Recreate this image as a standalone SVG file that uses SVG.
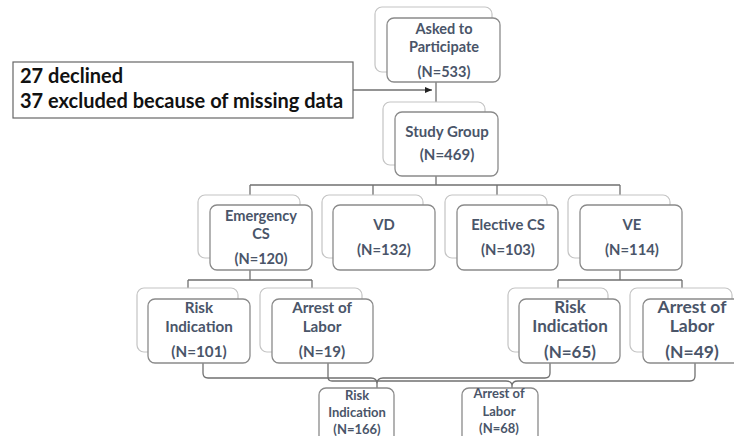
<svg xmlns="http://www.w3.org/2000/svg" width="734" height="436" viewBox="0 0 734 436">
<defs>
<style>
.bk{fill:#fff;stroke:#c4c4c4;stroke-width:1.2}
.fr{fill:#fff;stroke:#8a8a8a;stroke-width:1.3}
.t{font-family:Lato,"Open Sans","Liberation Sans",sans-serif;font-weight:bold;fill:#4a5569;text-anchor:middle}
.c{fill:none;stroke:#707070;stroke-width:1.3}
.nt{font-family:Lato,"Open Sans","Liberation Sans",sans-serif;font-weight:bold;font-size:20px;fill:#111}
</style>
<marker id="ah" markerWidth="8" markerHeight="8" refX="7" refY="3" orient="auto" markerUnits="userSpaceOnUse">
<path d="M0,0 L7,3 L0,6 Z" fill="#222"/>
</marker>
</defs>
<rect width="734" height="436" fill="#fff"/>

<g id="connectors">
<path class="c" d="M353,90 H432" stroke="#333" marker-end="url(#ah)"/>
<path class="c" d="M436,82 V102"/>
<path class="c" d="M436,176 V185 M250,185 H620 M250,185 V195 M373,185 V195 M497,185 V195 M620,185 V195"/>
<path class="c" d="M250,270 V280 M188,280 H312 M188,280 V288 M312,280 V288"/>
<path class="c" d="M620,270 V280 M558,280 H682 M558,280 V288 M682,280 V288"/>
<path class="c" d="M203,363 V373 Q203,378 208,378 H371 Q377,378 377,384 V388 M377,384 Q377,378 383,378 H545 Q550,378 550,373 V363"/>
<path class="c" d="M328,363 V377 Q328,381 332,381 H506 Q512,381 512,386 V388 M512,386 Q512,381 518,381 H690 Q695,381 695,376 V363"/>
</g>

<g id="note">
<rect x="13" y="62" width="340" height="56" fill="#fff" stroke="#666" stroke-width="1.2"/>
<text class="nt" x="20" y="83">27 declined</text>
<text class="nt" x="20" y="108">37 excluded because of missing data</text>
</g>

<g id="asked">
<rect class="bk" x="375" y="7" width="117" height="65" rx="7"/>
<rect class="fr" x="387" y="18" width="113" height="64" rx="7"/>
<text class="t" x="444" y="34" font-size="14.5">Asked to</text>
<text class="t" x="444" y="51.5" font-size="14.5">Participate</text>
<text class="t" x="444" y="77" font-size="14.5">(N=533)</text>
</g>

<g id="study">
<rect class="bk" x="383" y="102" width="102" height="63" rx="7"/>
<rect class="fr" x="395" y="112" width="103" height="64" rx="7"/>
<text class="t" x="447" y="137" font-size="15">Study Group</text>
<text class="t" x="447" y="160" font-size="15">(N=469)</text>
</g>

<g id="emcs">
<rect class="bk" x="198" y="195" width="102" height="63" rx="7"/>
<rect class="fr" x="210" y="205" width="102" height="65" rx="7"/>
<text class="t" x="261" y="221" font-size="14.6">Emergency</text>
<text class="t" x="261" y="238.5" font-size="14.6">CS</text>
<text class="t" x="261" y="264" font-size="14.6">(N=120)</text>
</g>

<g id="vd">
<rect class="bk" x="322" y="195" width="101" height="63" rx="7"/>
<rect class="fr" x="333" y="205" width="102" height="65" rx="7"/>
<text class="t" x="384" y="230" font-size="14.8">VD</text>
<text class="t" x="384" y="255" font-size="14.8">(N=132)</text>
</g>

<g id="elcs">
<rect class="bk" x="445" y="195" width="102" height="63" rx="7"/>
<rect class="fr" x="457" y="205" width="101" height="65" rx="7"/>
<text class="t" x="508" y="230" font-size="14.8">Elective CS</text>
<text class="t" x="508" y="255" font-size="14.8">(N=103)</text>
</g>

<g id="ve">
<rect class="bk" x="568" y="195" width="102" height="63" rx="7"/>
<rect class="fr" x="580" y="205" width="102" height="65" rx="7"/>
<text class="t" x="632" y="230" font-size="14.8">VE</text>
<text class="t" x="632" y="255" font-size="14.8">(N=114)</text>
</g>

<g id="ri1">
<rect class="bk" x="137" y="288" width="101" height="64" rx="7"/>
<rect class="fr" x="148" y="299" width="102" height="64" rx="7"/>
<text class="t" x="199" y="313" font-size="15.2">Risk</text>
<text class="t" x="199" y="332" font-size="15.2">Indication</text>
<text class="t" x="199" y="357" font-size="15.2">(N=101)</text>
</g>

<g id="al1">
<rect class="bk" x="260" y="288" width="102" height="64" rx="7"/>
<rect class="fr" x="272" y="299" width="101" height="64" rx="7"/>
<text class="t" x="322" y="313" font-size="15.2">Arrest of</text>
<text class="t" x="322" y="332" font-size="15.2">Labor</text>
<text class="t" x="322" y="357" font-size="15.2">(N=19)</text>
</g>

<g id="ri2">
<rect class="bk" x="508" y="288" width="100" height="64" rx="7"/>
<rect class="fr" x="519" y="299" width="101" height="64" rx="7"/>
<text class="t" x="570" y="313" font-size="17">Risk</text>
<text class="t" x="570" y="332" font-size="17">Indication</text>
<text class="t" x="570" y="358" font-size="17">(N=65)</text>
</g>

<g id="al2">
<rect class="bk" x="630" y="288" width="102" height="64" rx="7"/>
<rect class="fr" x="643" y="299" width="100" height="64" rx="7"/>
<text class="t" x="692" y="313" font-size="17.5">Arrest of</text>
<text class="t" x="692" y="332" font-size="17.5">Labor</text>
<text class="t" x="692" y="358" font-size="17.5">(N=49)</text>
</g>

<g id="ri3">
<rect class="fr" x="319" y="388" width="75" height="60" rx="7"/>
<text class="t" x="357" y="400" font-size="13">Risk</text>
<text class="t" x="357" y="417" font-size="13">Indication</text>
<text class="t" x="357" y="434" font-size="13">(N=166)</text>
</g>

<g id="al3">
<rect class="fr" x="462" y="388" width="76" height="60" rx="7"/>
<text class="t" x="499" y="398" font-size="13">Arrest of</text>
<text class="t" x="499" y="416" font-size="13">Labor</text>
<text class="t" x="499" y="433" font-size="13">(N=68)</text>
</g>
</svg>
